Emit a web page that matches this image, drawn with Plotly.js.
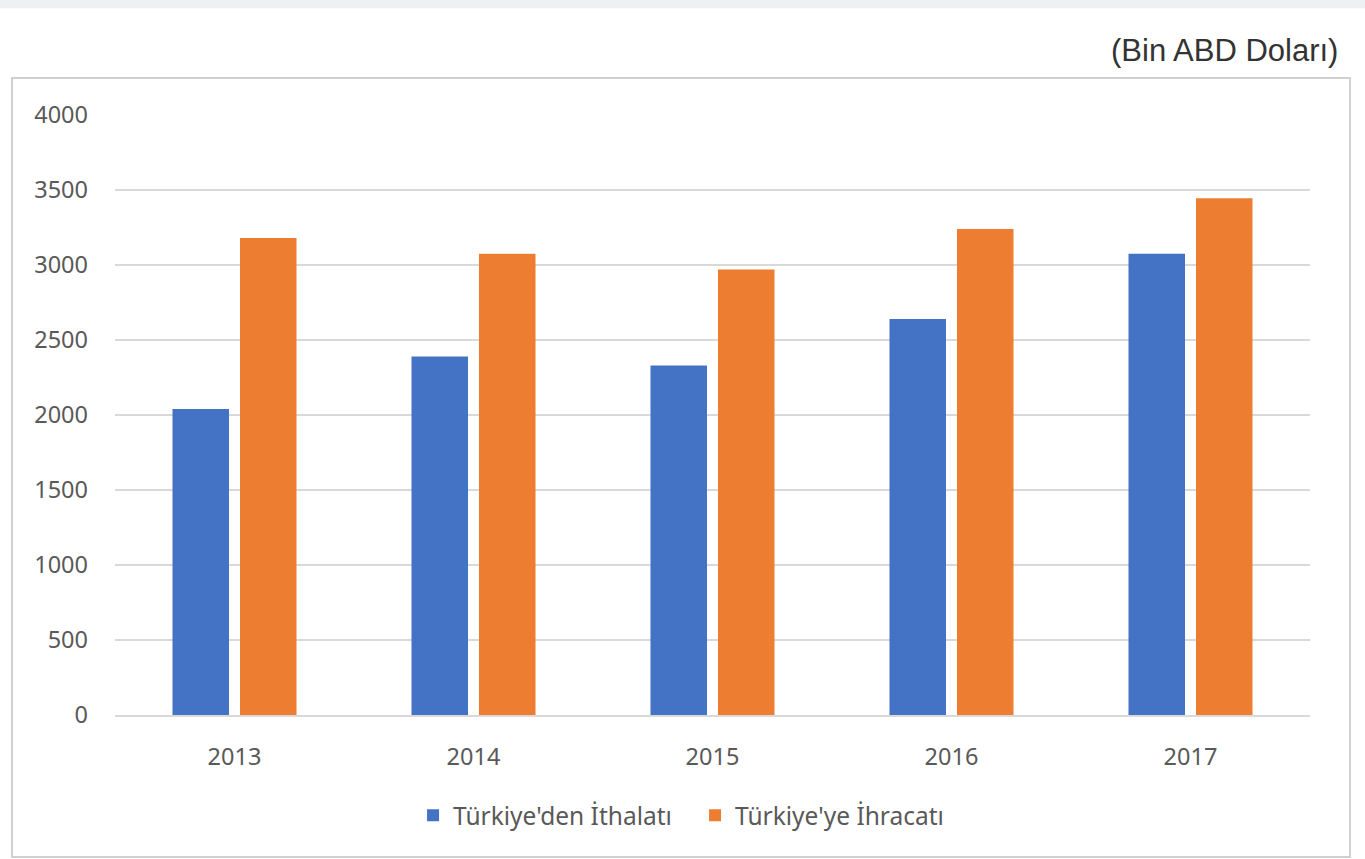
<!DOCTYPE html>
<html>
<head>
<meta charset="utf-8">
<script src="https://cdn.plot.ly/plotly-3.0.1.min.js"></script>
<style>html,body{margin:0;padding:0;background:#fff;}#chart{width:1365px;height:859px;}</style>
</head>
<body>
<div id="chart"></div>
<script>
const years = ['2013', '2014', '2015', '2016', '2017'];
const ithalat = [2040, 2390, 2330, 2640, 3075];
const ihracat = [3180, 3075, 2970, 3240, 3445];
const seriesNames = ["Türkiye'den İthalatı", "Türkiye'ye İhracatı"];
const yTicks = [0, 500, 1000, 1500, 2000, 2500, 3000, 3500, 4000];

const tickFont = {family: 'Noto Sans, sans-serif', size: 23.5, color: '#595959'};
const legendFont = {family: 'Noto Sans, sans-serif', size: 24.5, color: '#595959'};

const data = [
  {type: 'bar', x: years, y: ithalat, name: seriesNames[0], marker: {color: '#4472C4'}},
  {type: 'bar', x: years, y: ihracat, name: seriesNames[1], marker: {color: '#ED7D31'}}
];

const layout = {
  width: 1365, height: 859,
  margin: {l: 115, r: 55, t: 115, b: 144},
  paper_bgcolor: '#ffffff', plot_bgcolor: '#ffffff',
  barmode: 'group', bargap: 0.435, bargroupgap: 0.163,
  showlegend: true,
  legend: {orientation: 'h', x: 0.4854, xanchor: 'center', y: -0.167, yanchor: 'middle',
           font: legendFont, itemwidth: 30, entrywidth: 237, entrywidthmode: 'pixels',
           traceorder: 'normal'},
  xaxis: {type: 'category', tickfont: tickFont, showgrid: false, zeroline: false,
          showline: true, linecolor: '#d9d9d9', linewidth: 2, ticks: '', ticklabelstandoff: 20,
          fixedrange: true},
  yaxis: {range: [0, 4000], tickvals: yTicks, tickfont: tickFont, showgrid: true,
          gridcolor: '#d9d9d9', gridwidth: 2, zeroline: false, showline: false,
          ticks: '', ticklabelstandoff: 26, fixedrange: true},
  annotations: [{
    text: '(Bin ABD Doları)', xref: 'paper', yref: 'paper', x: 1.025, y: 1.108,
    xanchor: 'right', yanchor: 'middle', showarrow: false,
    font: {family: 'Liberation Sans, Arial, sans-serif', size: 31, color: '#333333'}
  }],
  shapes: [
    {type: 'rect', xref: 'paper', yref: 'paper', x0: -0.0862, x1: 1.0335, y0: -0.2367, y1: 1.0617,
     line: {color: '#d0d0d0', width: 2}, fillcolor: 'rgba(0,0,0,0)', layer: 'below'},
    {type: 'rect', xref: 'paper', yref: 'paper', x0: -0.1, x1: 1.05, y0: 1.178, y1: 1.2,
     line: {width: 0}, fillcolor: '#eef0f3', layer: 'below'}
  ]
};

Plotly.newPlot('chart', data, layout, {displayModeBar: false, staticPlot: true});
</script>
</body>
</html>
